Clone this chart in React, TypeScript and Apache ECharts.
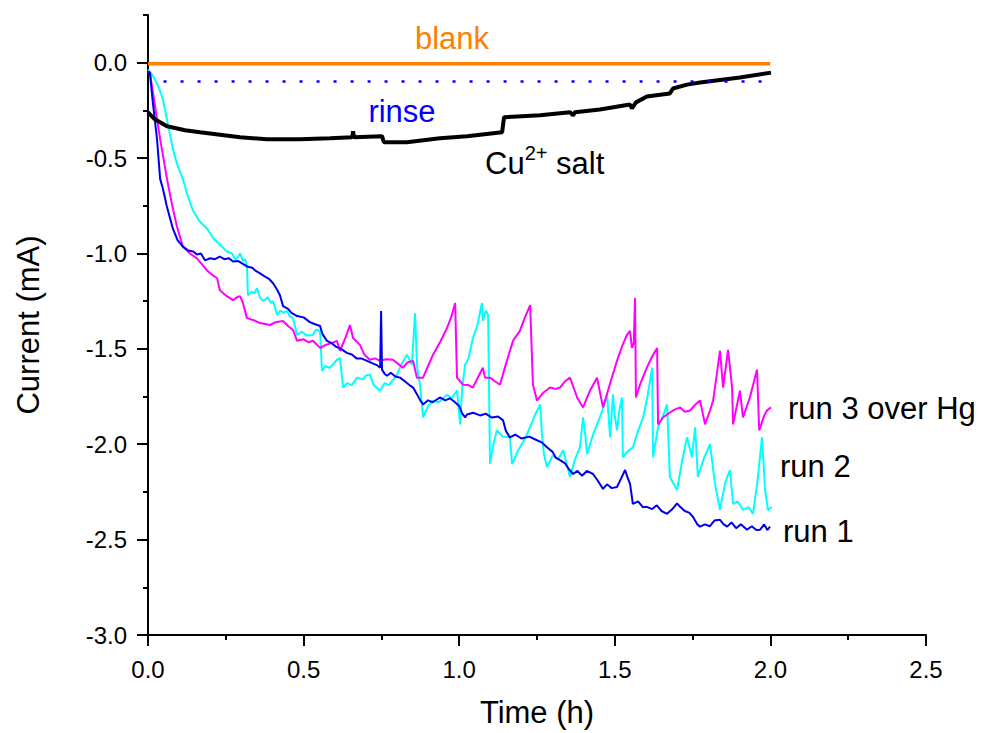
import React, { useEffect, useRef } from "react";
import * as echarts from "echarts";

// Time (h), Current (mA)
const blank: [number, number][] = [
  [0, -0.005], [0.5, -0.006], [1.0, -0.005], [1.5, -0.006], [2.0, -0.005],
];

const rinse: [number, number][] = [
  [0.05, -0.098], [1.0, -0.098], [2.0, -0.098],
];

const cuSalt: [number, number][] = [
  [0, -0.26], [0.022, -0.297], [0.061, -0.333], [0.119, -0.354], [0.167, -0.365],
  [0.296, -0.391], [0.382, -0.401], [0.488, -0.401], [0.585, -0.396], [0.656, -0.391],
  [0.659, -0.359], [0.662, -0.391], [0.752, -0.385], [0.758, -0.417], [0.832, -0.417],
  [0.938, -0.396], [1.025, -0.385], [1.138, -0.365], [1.144, -0.286], [1.26, -0.276],
  [1.356, -0.26], [1.366, -0.276], [1.372, -0.26], [1.452, -0.245], [1.549, -0.219],
  [1.555, -0.24], [1.568, -0.208], [1.603, -0.177], [1.677, -0.161], [1.687, -0.135],
  [1.732, -0.115], [1.774, -0.104], [1.902, -0.078], [2.002, -0.052],
];

const run1: [number, number][] = [
  [0, -0.047], [0.006, -0.052], [0.015, -0.2], [0.029, -0.401], [0.039, -0.609], [0.048, -0.661],
  [0.06, -0.75], [0.08, -0.87], [0.095, -0.93], [0.112, -0.964], [0.13, -0.985], [0.145, -0.99],
  [0.157, -1.005], [0.17, -1.0], [0.183, -1.036], [0.2, -1.025], [0.215, -1.03], [0.231, -1.016],
  [0.245, -1.03], [0.26, -1.025], [0.273, -1.042], [0.29, -1.04], [0.305, -1.055], [0.318, -1.068],
  [0.335, -1.075], [0.345, -1.09], [0.36, -1.104], [0.375, -1.12], [0.39, -1.135], [0.402, -1.156],
  [0.415, -1.19], [0.424, -1.219], [0.434, -1.276], [0.45, -1.29], [0.46, -1.31], [0.479, -1.328],
  [0.5, -1.335], [0.52, -1.36], [0.535, -1.37], [0.553, -1.38], [0.56, -1.42], [0.575, -1.458],
  [0.59, -1.47], [0.605, -1.49], [0.62, -1.5], [0.639, -1.521], [0.655, -1.53], [0.67, -1.55],
  [0.685, -1.55], [0.704, -1.563], [0.72, -1.575], [0.735, -1.585], [0.746, -1.599], [0.749, -1.302],
  [0.752, -1.609], [0.76, -1.63], [0.768, -1.641], [0.78, -1.625], [0.795, -1.645], [0.81, -1.651],
  [0.825, -1.67], [0.84, -1.69], [0.852, -1.703], [0.865, -1.74], [0.875, -1.77], [0.884, -1.792],
  [0.9, -1.77], [0.915, -1.78], [0.938, -1.755], [0.955, -1.77], [0.97, -1.76], [0.98, -1.771],
  [1.0, -1.8], [1.01, -1.84], [1.019, -1.859], [1.025, -1.844], [1.045, -1.835], [1.067, -1.849],
  [1.085, -1.84], [1.105, -1.86], [1.125, -1.855], [1.141, -1.875], [1.15, -1.93], [1.163, -1.964],
  [1.18, -1.95], [1.2, -1.97], [1.225, -1.96], [1.25, -1.979], [1.265, -1.99], [1.282, -2.016],
  [1.3, -2.04], [1.31, -2.07], [1.324, -2.083], [1.34, -2.1], [1.352, -2.13], [1.366, -2.156],
  [1.38, -2.14], [1.395, -2.165], [1.41, -2.14], [1.43, -2.156], [1.445, -2.19], [1.462, -2.234],
  [1.475, -2.21], [1.49, -2.23], [1.507, -2.224], [1.52, -2.18], [1.533, -2.135], [1.54, -2.17],
  [1.549, -2.208], [1.558, -2.313], [1.575, -2.3], [1.59, -2.33], [1.603, -2.328], [1.62, -2.34],
  [1.635, -2.32], [1.65, -2.35], [1.668, -2.365], [1.685, -2.34], [1.7, -2.31], [1.71, -2.328],
  [1.725, -2.35], [1.74, -2.36], [1.751, -2.38], [1.765, -2.42], [1.774, -2.432], [1.79, -2.42],
  [1.805, -2.43], [1.82, -2.4], [1.838, -2.396], [1.85, -2.42], [1.861, -2.432], [1.875, -2.41],
  [1.89, -2.44], [1.905, -2.42], [1.925, -2.448], [1.94, -2.43], [1.955, -2.45], [1.967, -2.448],
  [1.98, -2.42], [1.99, -2.45], [1.999, -2.432],
];

const run2: [number, number][] = [
  [0, -0.036], [0.006, -0.047], [0.02, -0.08], [0.035, -0.13], [0.048, -0.193], [0.065, -0.33],
  [0.08, -0.453], [0.095, -0.54], [0.112, -0.609], [0.128, -0.7], [0.145, -0.776], [0.165, -0.83],
  [0.19, -0.87], [0.21, -0.92], [0.235, -0.96], [0.254, -0.99], [0.27, -1.0], [0.28, -1.03],
  [0.286, -1.026], [0.296, -1.0], [0.305, -1.04], [0.312, -1.03], [0.318, -1.063], [0.321, -1.219],
  [0.333, -1.2], [0.342, -1.21], [0.35, -1.182], [0.36, -1.23], [0.37, -1.25], [0.385, -1.23],
  [0.395, -1.26], [0.402, -1.25], [0.415, -1.323], [0.425, -1.3], [0.435, -1.31], [0.447, -1.302],
  [0.455, -1.33], [0.466, -1.339], [0.479, -1.427], [0.495, -1.41], [0.51, -1.43], [0.53, -1.427],
  [0.54, -1.4], [0.553, -1.406], [0.559, -1.615], [0.57, -1.59], [0.583, -1.6], [0.594, -1.583],
  [0.605, -1.56], [0.617, -1.547], [0.627, -1.703], [0.64, -1.68], [0.655, -1.69], [0.672, -1.651],
  [0.69, -1.66], [0.7, -1.64], [0.713, -1.635], [0.725, -1.69], [0.746, -1.719], [0.76, -1.68],
  [0.775, -1.69], [0.8, -1.635], [0.815, -1.58], [0.832, -1.531], [0.848, -1.583], [0.858, -1.313],
  [0.865, -1.6], [0.874, -1.688], [0.884, -1.859], [0.9, -1.8], [0.916, -1.771], [0.935, -1.78],
  [0.961, -1.74], [0.975, -1.76], [0.993, -1.719], [1.003, -1.896], [1.01, -1.7], [1.019, -1.583],
  [1.03, -1.55], [1.044, -1.443], [1.058, -1.38], [1.073, -1.26], [1.076, -1.354], [1.085, -1.3],
  [1.093, -1.323], [1.099, -2.104], [1.11, -2.0], [1.121, -1.927], [1.14, -1.96], [1.163, -1.964],
  [1.17, -2.104], [1.19, -2.03], [1.205, -1.99], [1.218, -1.948], [1.24, -1.86], [1.26, -1.792],
  [1.266, -1.948], [1.272, -2.05], [1.282, -2.12], [1.3, -2.06], [1.318, -2.08], [1.334, -2.031],
  [1.345, -2.1], [1.356, -2.172], [1.372, -2.08], [1.388, -2.016], [1.398, -1.859], [1.405, -1.95],
  [1.411, -2.052], [1.43, -1.95], [1.452, -1.859], [1.465, -1.8], [1.475, -1.74], [1.485, -1.964],
  [1.494, -1.74], [1.5, -1.85], [1.507, -1.927], [1.515, -1.82], [1.523, -1.755], [1.526, -2.068],
  [1.54, -2.04], [1.558, -2.016], [1.575, -1.93], [1.591, -1.859], [1.605, -1.75], [1.62, -1.599],
  [1.623, -2.068], [1.639, -1.911], [1.655, -1.85], [1.668, -1.792], [1.677, -2.172], [1.7, -2.24],
  [1.715, -2.1], [1.732, -1.964], [1.748, -2.068], [1.758, -1.911], [1.767, -2.172], [1.785, -2.08],
  [1.806, -2.0], [1.822, -2.208], [1.838, -2.344], [1.855, -2.2], [1.87, -2.135], [1.88, -2.313],
  [1.895, -2.3], [1.912, -2.344], [1.93, -2.33], [1.944, -2.365], [1.958, -2.2], [1.973, -1.964],
  [1.983, -2.24], [1.992, -2.344], [2.005, -2.328],
];

const run3: [number, number][] = [
  [0, -0.047], [0.006, -0.052], [0.02, -0.2], [0.039, -0.401], [0.061, -0.609], [0.078, -0.75],
  [0.093, -0.859], [0.112, -0.964], [0.135, -1.0], [0.157, -1.026], [0.175, -1.06], [0.19, -1.089],
  [0.205, -1.11], [0.222, -1.13], [0.231, -1.193], [0.25, -1.22], [0.273, -1.245], [0.285, -1.23],
  [0.296, -1.224], [0.305, -1.26], [0.318, -1.339], [0.34, -1.35], [0.36, -1.365], [0.392, -1.375],
  [0.41, -1.36], [0.434, -1.354], [0.45, -1.38], [0.466, -1.401], [0.479, -1.458], [0.5, -1.45],
  [0.515, -1.465], [0.53, -1.458], [0.553, -1.495], [0.57, -1.48], [0.59, -1.47], [0.607, -1.458],
  [0.617, -1.51], [0.635, -1.44], [0.649, -1.375], [0.659, -1.443], [0.681, -1.479], [0.695, -1.53],
  [0.713, -1.557], [0.73, -1.55], [0.746, -1.563], [0.765, -1.555], [0.787, -1.557], [0.805, -1.58],
  [0.819, -1.599], [0.835, -1.57], [0.852, -1.563], [0.864, -1.651], [0.884, -1.651], [0.9, -1.59],
  [0.916, -1.531], [0.94, -1.46], [0.961, -1.391], [0.975, -1.33], [0.987, -1.26], [0.993, -1.651],
  [1.012, -1.688], [1.03, -1.69], [1.044, -1.703], [1.06, -1.65], [1.076, -1.599], [1.083, -1.651],
  [1.099, -1.651], [1.115, -1.67], [1.131, -1.688], [1.15, -1.58], [1.173, -1.458], [1.195, -1.406],
  [1.21, -1.34], [1.228, -1.271], [1.237, -1.688], [1.25, -1.771], [1.27, -1.73], [1.292, -1.703],
  [1.31, -1.71], [1.324, -1.703], [1.34, -1.67], [1.356, -1.651], [1.379, -1.755], [1.398, -1.807],
  [1.42, -1.72], [1.443, -1.651], [1.462, -1.807], [1.485, -1.68], [1.507, -1.563], [1.525, -1.48],
  [1.539, -1.427], [1.549, -1.406], [1.555, -1.495], [1.561, -1.469], [1.565, -1.234], [1.568, -1.755],
  [1.581, -1.688], [1.603, -1.599], [1.62, -1.54], [1.636, -1.495], [1.639, -1.896], [1.655, -1.86],
  [1.668, -1.844], [1.69, -1.82], [1.71, -1.807], [1.725, -1.83], [1.742, -1.823], [1.76, -1.79],
  [1.774, -1.771], [1.79, -1.896], [1.806, -1.823], [1.816, -1.771], [1.832, -1.583], [1.838, -1.51],
  [1.848, -1.703], [1.864, -1.505], [1.877, -1.703], [1.88, -1.896], [1.902, -1.719], [1.912, -1.859],
  [1.934, -1.755], [1.957, -1.609], [1.964, -1.927], [1.98, -1.85], [1.989, -1.823], [2.002, -1.807],
];

// y axis tick positions every 0.25 mA from -3.0 to 0.25 (major ones labelled)
const yTickCats = [
  "-3.0", "-2.75", "-2.5", "-2.25", "-2.0", "-1.75", "-1.5",
  "-1.25", "-1.0", "-0.75", "-0.5", "-0.25", "0.0", "0.25",
];

const FONT = '"Liberation Sans", Arial, Helvetica, sans-serif';

export default function App() {
  const ref = useRef<HTMLDivElement>(null);
  useEffect(() => {
    if (!ref.current) return;
    const chart = echarts.init(ref.current, undefined, { renderer: "svg" });
    const axisLineStyle = { color: "#000", width: 2 };
    const isMajor = (i: number) => i % 2 === 0 && i <= 12;
    const lineSeries = (name: string, data: [number, number][], color: string, width: number, extra: any = {}) => ({
      name,
      type: "line",
      data,
      showSymbol: false,
      symbol: "none",
      silent: true,
      xAxisIndex: 0,
      yAxisIndex: 0,
      lineStyle: { color, width, ...extra },
    });
    chart.setOption({
      animation: false,
      backgroundColor: "#fff",
      grid: { left: 148, right: 61, top: 15, bottom: 94, containLabel: false },
      xAxis: {
        type: "value",
        min: 0,
        max: 2.5,
        interval: 0.5,
        name: "Time (h)",
        nameLocation: "middle",
        nameGap: 62,
        nameTextStyle: { fontSize: 31, color: "#000", fontFamily: FONT },
        axisLine: { show: true, onZero: false, lineStyle: axisLineStyle },
        axisTick: { show: true, length: 11, lineStyle: axisLineStyle },
        minorTick: { show: true, splitNumber: 2, length: 5, lineStyle: axisLineStyle },
        axisLabel: {
          fontSize: 24,
          color: "#000",
          fontFamily: FONT,
          margin: 22,
          formatter: (v: number) => v.toFixed(1),
        },
        splitLine: { show: false },
        minorSplitLine: { show: false },
      },
      yAxis: [
        {
          type: "value",
          min: -3,
          max: 0.25,
          interval: 0.25,
          name: "Current (mA)",
          nameLocation: "middle",
          nameGap: 104,
          nameTextStyle: { fontSize: 31, color: "#000", fontFamily: FONT },
          axisLine: { show: true, onZero: false, lineStyle: axisLineStyle },
          axisTick: { show: true, length: 5, lineStyle: axisLineStyle },
          axisLabel: { show: false },
          splitLine: { show: false },
        },
        {
          type: "category",
          data: yTickCats,
          boundaryGap: false,
          position: "left",
          offset: 0,
          axisLine: { show: false },
          axisTick: { show: true, length: 11, lineStyle: axisLineStyle, interval: (i: number) => isMajor(i) },
          axisLabel: {
            fontSize: 24,
            color: "#000",
            fontFamily: FONT,
            margin: 21,
            interval: (i: number) => isMajor(i),
          },
          splitLine: { show: false },
        },
      ],
      series: [
        lineSeries("run 2", run2, "#00FFFF", 2),
        lineSeries("run 3 over Hg", run3, "#FF00FF", 2),
        lineSeries("run 1", run1, "#0000EE", 2),
        lineSeries("Cu2+ salt", cuSalt, "#000000", 4),
        lineSeries("rinse", rinse, "#0000FF", 2.5, { type: [3, 14] }),
        lineSeries("blank", blank, "#FF8000", 3.5),
      ],
      graphic: [
        {
          type: "text",
          x: 452,
          y: 38,
          style: { text: "blank", fill: "#FF8000", fontSize: 31, fontFamily: FONT, align: "center", verticalAlign: "middle" },
        },
        {
          type: "text",
          x: 402,
          y: 111,
          style: { text: "rinse", fill: "#0000FF", fontSize: 31, fontFamily: FONT, align: "center", verticalAlign: "middle" },
        },
        {
          type: "text",
          x: 485,
          y: 163,
          style: {
            text: "{a|Cu}{b|2+}{a| salt}",
            align: "left",
            verticalAlign: "middle",
            rich: {
              a: { fontSize: 31, fontFamily: FONT, fill: "#000", color: "#000", lineHeight: 40 },
              b: { fontSize: 20, fontFamily: FONT, fill: "#000", color: "#000", lineHeight: 20, verticalAlign: "top" },
            },
          },
        },
        {
          type: "text",
          x: 788,
          y: 408,
          style: { text: "run 3 over Hg", fill: "#000", fontSize: 31, fontFamily: FONT, align: "left", verticalAlign: "middle" },
        },
        {
          type: "text",
          x: 780,
          y: 466,
          style: { text: "run 2", fill: "#000", fontSize: 31, fontFamily: FONT, align: "left", verticalAlign: "middle" },
        },
        {
          type: "text",
          x: 783,
          y: 531,
          style: { text: "run 1", fill: "#000", fontSize: 31, fontFamily: FONT, align: "left", verticalAlign: "middle" },
        },
      ],
    });
    return () => chart.dispose();
  }, []);
  return (
    <div
      ref={ref}
      style={{ position: "fixed", left: 0, top: 0, width: 987, height: 733, background: "#fff" }}
    />
  );
}
